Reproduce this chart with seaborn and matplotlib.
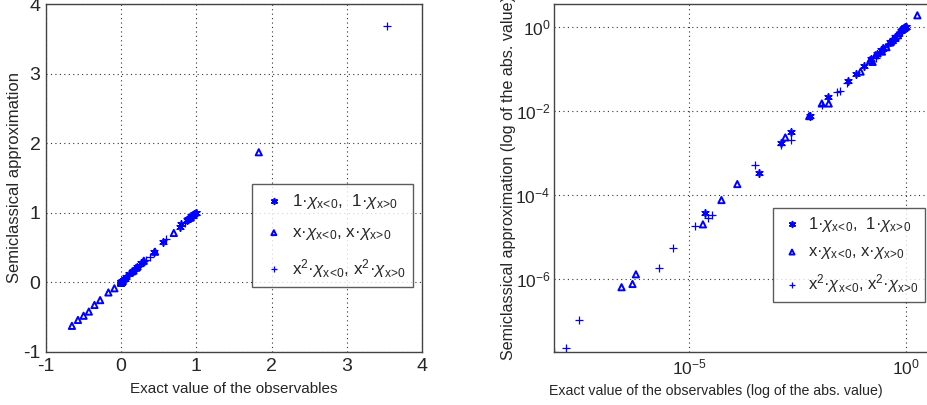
import matplotlib
matplotlib.use('Agg')
import matplotlib.pyplot as plt
import numpy as np
import pandas as pd
import seaborn as sns

# exact value vs semiclassical approximation, one pair of lists per observable family
one_exact = [2.4e-5, 4.2e-4, 1.35e-3, 2.3e-3, 6.0e-3, 1.6e-2, 0.045, 0.07, 0.11, 0.16, 0.21,
             0.27, 0.43, 0.55, 0.78, 0.80, 0.87, 0.89, 0.91, 0.93, 0.95, 0.97, 0.99, 1.0]
one_approx = [3.6e-5, 3.2e-4, 1.65e-3, 3.1e-3, 7.6e-3, 2.1e-2, 0.05, 0.075, 0.115, 0.17, 0.22,
              0.28, 0.43, 0.58, 0.80, 0.84, 0.90, 0.91, 0.93, 0.95, 0.96, 0.98, 0.99, 1.0]

x_exact = [-0.655, -0.575, -0.50, -0.43, -0.355, -0.28, -0.17, -0.09, 2.8e-7, 5.0e-7, 6.0e-7,
           2.1e-5, 5.6e-5, 1.3e-4, 1.66e-3, 5.9e-3, 1.15e-2, 1.66e-2, 0.15, 0.2, 0.3, 0.45,
           0.70, 0.92, 1.83]
x_approx = [-0.625, -0.54, -0.48, -0.42, -0.325, -0.255, -0.145, -0.085, 6.2e-7, 7.4e-7, 1.26e-6,
            1.95e-5, 7.4e-5, 1.78e-4, 2.3e-3, 7.4e-3, 1.48e-2, 1.48e-2, 0.16, 0.21, 0.31, 0.44,
            0.71, 0.93, 1.87]

x2_exact = [7.6e-9, 1.5e-8, 2.9e-8, 2.0e-6, 4.2e-6, 1.4e-5, 2.7e-5, 3.4e-5, 3.3e-4, 1.3e-3,
            2.3e-3, 1.17e-2, 2.6e-2, 3.0e-2, 4.3e-2, 0.2, 0.25, 0.3, 0.33, 0.38, 0.6, 0.85, 3.53]
x2_approx = [1.8e-8, 2.2e-8, 1.05e-7, 1.8e-6, 5.4e-6, 1.8e-5, 2.75e-5, 3.3e-5, 5.1e-4, 1.5e-3,
             1.95e-3, 1.35e-2, 2.8e-2, 3.0e-2, 4.5e-2, 0.18, 0.24, 0.3, 0.32, 0.37, 0.62, 0.86, 3.68]

neg = '$\\chi_{\\mathrm{x}\\!<\\!\\mathrm{0}}$'
pos = '$\\chi_{\\mathrm{x}\\!>\\!\\mathrm{0}}$'
labels = ['1·' + neg + ',  1·' + pos,
          'x·' + neg + ', x·' + pos,
          'x$^2$·' + neg + ', x$^2$·' + pos]

frames = []
for lab, ex, ap in zip(labels, [one_exact, x_exact, x2_exact], [one_approx, x_approx, x2_approx]):
    frames.append(pd.DataFrame({'exact': ex, 'approx': ap, 'series': lab}))
df = pd.concat(frames, ignore_index=True)
df['abs_exact'] = df['exact'].abs()
df['abs_approx'] = df['approx'].abs()

sns.set_style('white')
plt.rcParams['font.family'] = ['Liberation Sans', 'DejaVu Sans']
plt.rcParams['mathtext.fontset'] = 'custom'
plt.rcParams['mathtext.rm'] = 'Liberation Sans'
plt.rcParams['mathtext.it'] = 'Liberation Sans:italic'
plt.rcParams['mathtext.bf'] = 'Liberation Sans:bold'
plt.rcParams['axes.unicode_minus'] = False

blue = (0, 0, 1)
styles = {labels[0]: dict(marker=(6, 2, 0), s=26, linewidth=1.2),
          labels[1]: dict(marker='^', s=20, facecolor='none', edgecolor=blue, linewidth=1.4),
          labels[2]: dict(marker='+', s=30, linewidth=0.9)}

fig = plt.figure(figsize=(9.27, 4.05), dpi=100)
ax1 = fig.add_axes([0.0496, 0.131, 0.4056, 0.859])
ax2 = fig.add_axes([0.5976, 0.131, 0.405, 0.859])

for lab in labels:
    sub = df[df['series'] == lab]
    sns.scatterplot(data=sub, x='exact', y='approx', color=blue, ax=ax1, label=lab, **styles[lab])
    sns.scatterplot(data=sub, x='abs_exact', y='abs_approx', color=blue, ax=ax2, label=lab,
                    **styles[lab])

# linear panel
ax1.set_xlim(-1, 4)
ax1.set_ylim(-1, 4)
ax1.set_xticks(range(-1, 5))
ax1.set_yticks(range(-1, 5))
ax1.set_xlabel('Exact value of the observables', fontsize=11)
ax1.set_ylabel('Semiclassical approximation', fontsize=12)
ax1.xaxis.set_label_coords(0.5, -0.085)
ax1.yaxis.set_label_coords(-0.064, 0.5)
ax1.tick_params(labelsize=14, pad=4)

# log panel
ax2.set_xscale('log')
ax2.set_yscale('log')
ax2.set_xlim(10 ** -8.11, 10 ** 0.54)
ax2.set_ylim(10 ** -7.75, 10 ** 0.54)
ax2.set_xticks([1e-5, 1])
ax2.set_yticks([1e-6, 1e-4, 1e-2, 1])
ax2.minorticks_off()
ax2.set_xlabel('Exact value of the observables (log of the abs. value)', fontsize=10.2)
ax2.set_ylabel('Semiclassical approximation (log of the abs. value)', fontsize=11.6)
ax2.xaxis.set_label_coords(0.432, -0.092)
ax2.yaxis.set_label_coords(-0.102, 0.5)
ax2.tick_params(labelsize=12.5, pad=2.5)
ax2.tick_params(axis='x', pad=4)

for ax in (ax1, ax2):
    ax.grid(True, linestyle=(0, (1, 3)), color='#333333', linewidth=0.8)
    ax.tick_params(direction='in', length=4, color='#444444')
    for sp in ax.spines.values():
        sp.set_color('#444444')
        sp.set_linewidth(1.0)

leg1 = ax1.legend(loc='upper left', bbox_to_anchor=(0.547, 0.483), borderaxespad=0,
                  fontsize=12.3, frameon=True, fancybox=False, edgecolor='#333333',
                  handletextpad=0.2, labelspacing=0.85, borderpad=0.45, handlelength=1.7,
                  markerscale=0.8)
leg1.get_frame().set_linewidth(1.0)
leg2 = ax2.legend(loc='upper left', bbox_to_anchor=(0.583, 0.414), borderaxespad=0,
                  fontsize=12, frameon=True, fancybox=False, edgecolor='#333333',
                  handletextpad=0.2, labelspacing=0.65, borderpad=0.4, handlelength=1.5,
                  markerscale=0.8)
leg2.get_frame().set_linewidth(1.0)

fig.savefig('out.png', dpi=100)
